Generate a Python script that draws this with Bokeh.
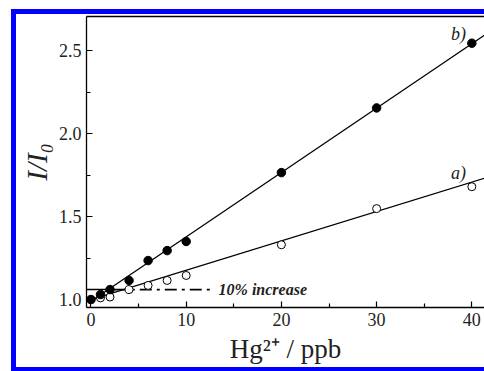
from bokeh.plotting import figure
from bokeh.models import Label, LinearAxis, FixedTicker, Range1d, Spacer, PrintfTickFormatter
from bokeh.layouts import row, column
from bokeh.embed import file_html
from bokeh.resources import INLINE

# ---- data ----
conc = [0, 1, 2, 4, 6, 8, 10, 20, 30, 40]                       # Hg2+ / ppb
ratio_a = [1.00, 1.01, 1.015, 1.06, 1.085, 1.115, 1.145, 1.33, 1.548, 1.68]   # open circles
ratio_b = [1.00, 1.03, 1.06, 1.115, 1.235, 1.295, 1.35, 1.765, 2.155, 2.545]  # filled circles
fit_x = [0, 42]
fit_a_y = [1.00, 1.743]
fit_b_y = [0.99, 2.620]
thresh_y = 1.06
thresh_solid_x = [-0.5, 2.5]
thresh_dash_x = [2.5, 12.9]
x_ticks = [0, 10, 20, 30, 40]
y_ticks = [1.0, 1.5, 2.0, 2.5]

SERIF = "Liberation Serif"
BLUE = "#0000ff"
INK = "#222222"

p = figure(width=468, height=353, output_backend="svg", toolbar_location=None,
           x_range=Range1d(-0.47, 41.33), y_range=Range1d(0.952, 2.706),
           min_border_left=70, min_border_right=0, min_border_top=2, min_border_bottom=60,
           background_fill_color="white", border_fill_color="white")
p.outline_line_color = None
p.grid.grid_line_color = None

for ax, ticks in ((p.xaxis[0], x_ticks), (p.yaxis[0], y_ticks)):
    step = ticks[1] - ticks[0]
    ax.ticker = FixedTicker(ticks=ticks, minor_ticks=[t - step / 2 for t in ticks] + [ticks[-1] + step / 2])
    ax.axis_line_color = "black"
    ax.axis_line_width = 1.3
    ax.major_tick_in = 6
    ax.major_tick_out = 0
    ax.minor_tick_in = 4
    ax.minor_tick_out = 0
    ax.major_tick_line_width = 1.2
    ax.minor_tick_line_width = 1.2
    ax.major_label_text_font = SERIF
    ax.major_label_text_font_size = "18px"
    ax.major_label_text_color = INK
    ax.axis_label_text_font = SERIF
    ax.axis_label_text_color = INK
    ax.axis_label_text_font_style = "normal"
p.yaxis.formatter = PrintfTickFormatter(format="%.1f")
p.xaxis.major_label_standoff = 5
p.yaxis.major_label_standoff = 5

p.xaxis.axis_label = "Hg\u00b2\u207a / ppb"
p.xaxis.axis_label_text_font_size = "27px"
p.xaxis.axis_label_standoff = 5
p.yaxis.axis_label = "I/I\u2080"
p.yaxis.axis_label_text_font_size = "29px"
p.yaxis.axis_label_text_font_style = "italic"
p.yaxis.axis_label_standoff = 3

top = LinearAxis(ticker=FixedTicker(ticks=[]), axis_line_color="black", axis_line_width=1.3,
                 major_tick_in=0, major_tick_out=0, minor_tick_in=0, minor_tick_out=0,
                 major_label_text_font_size="0px")
p.add_layout(top, "above")

# fit lines
p.line(fit_x, fit_a_y, line_color="black", line_width=1.3)
p.line(fit_x, fit_b_y, line_color="black", line_width=1.3)

# threshold line
p.line(thresh_solid_x, [thresh_y, thresh_y], line_color="black", line_width=1.5)
p.line(thresh_dash_x, [thresh_y, thresh_y], line_color="black", line_width=1.8,
       line_dash="12 5 3 5")

# data points
p.scatter(conc, ratio_a, size=8, marker="circle", fill_color="white", line_color="black", line_width=1)
p.scatter(conc, ratio_b, size=8.5, marker="circle", fill_color="black", line_color="black")

# annotations
p.add_layout(Label(x=13.4, y=thresh_y, text="10% increase", text_font=SERIF, text_font_size="16px",
                   text_font_style="bold italic", text_baseline="middle", text_color=INK))
p.add_layout(Label(x=37.8, y=2.60, text="b)", text_font=SERIF, text_font_size="18px",
                   text_font_style="italic", text_baseline="alphabetic", text_color=INK))
p.add_layout(Label(x=37.8, y=1.765, text="a)", text_font=SERIF, text_font_size="18px",
                   text_font_style="italic", text_baseline="alphabetic", text_color=INK))

bg = {"background-color": BLUE}
frame_col = column(Spacer(width=468, height=5, styles=bg), p, Spacer(width=468, height=4, styles=bg),
                   spacing=0)
layout = column(Spacer(width=484, height=9),
                row(Spacer(width=11, height=362), Spacer(width=5, height=362, styles=bg), frame_col, spacing=0),
                spacing=0)

open("out.html", "w").write(file_html(layout, INLINE))
